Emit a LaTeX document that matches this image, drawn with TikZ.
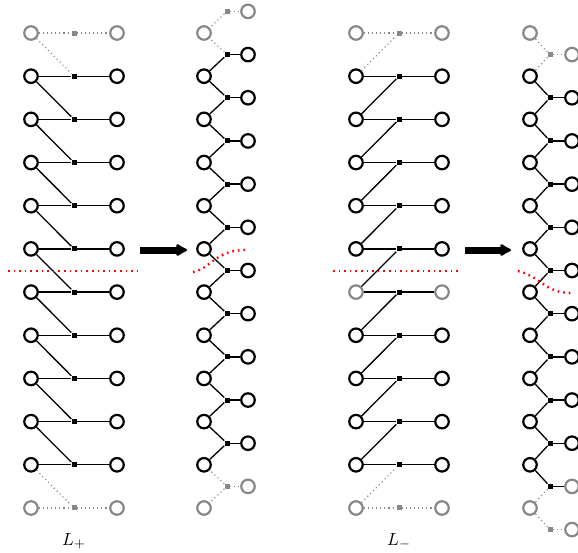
\documentclass[tikz,border=0pt]{standalone}
\usepackage{graphicx}
\usetikzlibrary{arrows.meta}
\definecolor{ghost}{HTML}{888888}
\definecolor{cutred}{HTML}{FF0000}
\tikzset{
  site/.style={circle,draw=#1,line width=2.2pt,fill=white,minimum size=13.5pt,inner sep=0pt},
  site/.default=black,
  bond/.style={rectangle,fill=#1,minimum size=5pt,inner sep=0pt},
  bond/.default=black,
  link/.style={line width=1.3pt,black},
  ghostlink/.style={line width=1.2pt,ghost,dash pattern=on 1.1pt off 3pt},
  cut/.style={line width=2.4pt,cutred,dash pattern=on 1.6pt off 4pt},
  push/.style={line width=7pt,-{Latex[round,length=13pt,width=15pt]}},
  lbl/.style={inner sep=0pt,anchor=base}
}
% draw a connector between two named nodes, dotted grey when #1 = 1
\newcommand\joinpair[3]{\ifnum#1=1\relax\draw[ghostlink](#2)--(#3);\else\draw[link](#2)--(#3);\fi}
\begin{document}
\begin{tikzpicture}[x=1pt,y=-1pt]
\useasboundingbox (0,0) rectangle (578,552);

% ---------- ladder L+ ----------
\foreach \j in {0,...,11}{
  \pgfmathsetmacro\y{33+43.18*\j}
  \pgfmathtruncatemacro\g{(\j==0)||(\j==11)}
  \ifnum\g=1 \def\col{ghost}\else\def\col{black}\fi
  \node[site=\col] (A-l-\j) at (31,\y) {};
  \node[bond=\col] (A-s-\j) at (74,\y) {};
  \node[site=\col] (A-r-\j) at (117,\y) {};
  \joinpair{\g}{A-l-\j}{A-s-\j}
  \joinpair{\g}{A-s-\j}{A-r-\j}
}
\foreach \j in {0,...,10}{
  \pgfmathtruncatemacro\n{\j+1}
  \pgfmathtruncatemacro\g{(\j==0)||(\j==10)}
  \joinpair{\g}{A-l-\j}{A-s-\n}
}

% ---------- chain after L+ ----------
\foreach \j in {0,...,11}{
  \pgfmathsetmacro\y{33+43.18*\j}
  \pgfmathtruncatemacro\g{(\j==0)||(\j==11)}
  \ifnum\g=1 \def\col{ghost}\else\def\col{black}\fi
  \node[site=\col] (B-l-\j) at (204,\y) {};
}
\foreach \k in {0,...,11}{
  \pgfmathsetmacro\y{33+43.18*\k-21.59}
  \pgfmathtruncatemacro\g{(\k==0)||(\k==11)}
  \ifnum\g=1 \def\col{ghost}\else\def\col{black}\fi
  \node[bond=\col] (B-s-\k) at (227,\y) {};
  \node[site=\col] (B-r-\k) at (248,\y) {};
  \joinpair{\g}{B-s-\k}{B-r-\k}
  \joinpair{\g}{B-s-\k}{B-l-\k}
}
\foreach \k in {1,...,11}{
  \pgfmathtruncatemacro\p{\k-1}
  \pgfmathtruncatemacro\g{(\k==1)||(\k==11)}
  \joinpair{\g}{B-s-\k}{B-l-\p}
}

% ---------- ladder L- ----------
\foreach \j in {0,...,11}{
  \pgfmathsetmacro\y{33+43.18*\j}
  \pgfmathtruncatemacro\g{(\j==0)||(\j==11)}
  \pgfmathtruncatemacro\h{(\j==0)||(\j==6)||(\j==11)}
  \ifnum\g=1 \def\col{ghost}\else\def\col{black}\fi
  \ifnum\h=1 \def\scol{ghost}\else\def\scol{black}\fi
  \node[site=\scol] (C-l-\j) at (356,\y) {};
  \node[bond=\col] (C-s-\j) at (399,\y) {};
  \node[site=\scol] (C-r-\j) at (442,\y) {};
  \joinpair{\g}{C-l-\j}{C-s-\j}
  \joinpair{\g}{C-s-\j}{C-r-\j}
}
\foreach \j in {0,...,10}{
  \pgfmathtruncatemacro\n{\j+1}
  \pgfmathtruncatemacro\g{(\j==0)||(\j==10)}
  \joinpair{\g}{C-l-\n}{C-s-\j}
}

% ---------- chain after L- ----------
\foreach \j in {0,...,11}{
  \pgfmathsetmacro\y{33+43.18*\j}
  \pgfmathtruncatemacro\g{(\j==0)||(\j==11)}
  \ifnum\g=1 \def\col{ghost}\else\def\col{black}\fi
  \node[site=\col] (D-l-\j) at (530,\y) {};
}
\foreach \k in {0,...,11}{
  \pgfmathsetmacro\y{33+43.18*\k+21.59}
  \pgfmathtruncatemacro\g{(\k==0)||(\k==11)}
  \pgfmathtruncatemacro\h{(\k==0)||(\k==10)||(\k==11)}
  \ifnum\g=1 \def\col{ghost}\else\def\col{black}\fi
  \ifnum\h=1 \def\scol{ghost}\else\def\scol{black}\fi
  \node[bond=\col] (D-s-\k) at (550,\y) {};
  \node[site=\scol] (D-r-\k) at (572,\y) {};
  \joinpair{\g}{D-s-\k}{D-r-\k}
  \joinpair{\g}{D-s-\k}{D-l-\k}
}
\foreach \k in {0,...,10}{
  \pgfmathtruncatemacro\n{\k+1}
  \pgfmathtruncatemacro\g{(\k==0)||(\k==10)}
  \joinpair{\g}{D-s-\k}{D-l-\n}
}

% ---------- cuts ----------
\coordinate (cutA1) at (8,271);   \coordinate (cutA2) at (137,271);
\coordinate (cutB1) at (193,272); \coordinate (cutB2) at (246,250);
\coordinate (cutC1) at (333,271); \coordinate (cutC2) at (461,271);
\coordinate (cutD1) at (518,271); \coordinate (cutD2) at (571,293);
\draw[cut] (cutA1) -- (cutA2);
\draw[cut] (cutB1) .. controls (212,268) and (215,250) .. (cutB2);
\draw[cut] (cutC1) -- (cutC2);
\draw[cut] (cutD1) .. controls (540,276) and (545,293) .. (cutD2);

% ---------- arrows ----------
\coordinate (arrA1) at (140,250); \coordinate (arrA2) at (187,250);
\coordinate (arrB1) at (465,250); \coordinate (arrB2) at (511,250);
\draw[push] (arrA1) -- (arrA2);
\draw[push] (arrB1) -- (arrB2);

% ---------- labels ----------
\node[lbl] (labA) at (74,545) {\scalebox{1.75}{$L_+$}};
\node[lbl] (labC) at (399,545) {\scalebox{1.75}{$L_-$}};
\end{tikzpicture}
\end{document}
